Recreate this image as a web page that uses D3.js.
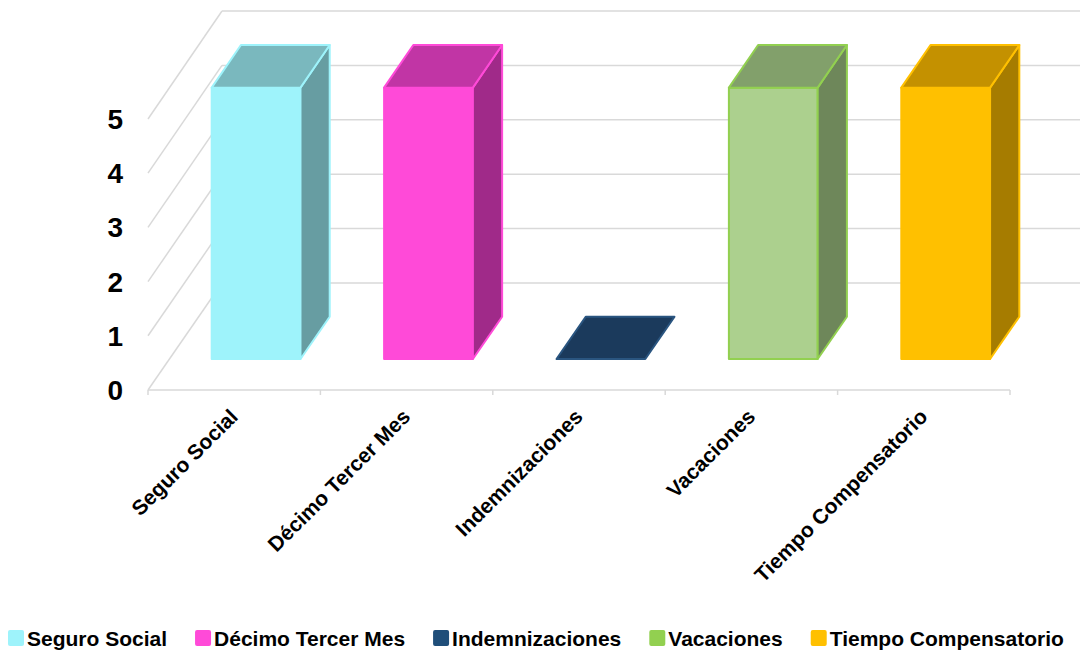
<!DOCTYPE html>
<html>
<head>
<meta charset="utf-8">
<script src="https://cdn.jsdelivr.net/npm/d3@7"></script>
<style>
  body { margin: 0; background: #fff; }
  text { font-family: "Liberation Sans", Arial, sans-serif; font-weight: bold; fill: #000; }
</style>
</head>
<body>
<div id="chart"></div>
<script>
const categories = ["Seguro Social", "Décimo Tercer Mes", "Indemnizaciones", "Vacaciones", "Tiempo Compensatorio"];
const values = [5, 5, 0, 5, 5];
const yTicks = [0, 1, 2, 3, 4, 5];
const frontColors = ["#9ef3fb", "#ff4ad8", "#1b3a5c", "#acd08e", "#ffc000"];
const topColors = ["#7ab8be", "#c135a5", "#1b3a5c", "#82a06b", "#c49100"];
const sideColors = ["#679da2", "#a02a89", "#173350", "#6e875a", "#a67c00"];
const lineColors = ["#9ef3fb", "#ff4ad8", "#2a5580", "#92d050", "#ffc000"];
const legendColors = ["#9ef3fb", "#ff4ad8", "#1f4e79", "#92d050", "#ffc000"];

function chart () {
    const width = 1080;
    const height = 650;
    const depthX = 74;          // horizontal shift from front edge to back wall
    const tFront = 0.29;        // bar front inside the floor depth
    const tBack = 0.685;        // bar back inside the floor depth

    const svg = d3.select("#chart").append("svg")
        .attr("width", width)
        .attr("height", height);

    const xScale = d3.scaleBand().domain(categories).range([148, 1010]);
    const yFront = d3.scaleLinear().domain([0, 5]).range([390, 119]);
    const yBack = d3.scaleLinear().domain([0, 5]).range([283, 11]);

    // point at front x, value v, depth t (0 = front edge, 1 = back wall)
    const proj = (x, v, t) => [x + t * depthX, yFront(v) + t * (yBack(v) - yFront(v))];

    const grid = svg.append("g")
        .attr("stroke", "#d9d9d9")
        .attr("stroke-width", 1.5)
        .attr("fill", "none");

    // left wall diagonals and back wall lines
    yTicks.forEach(v => {
        grid.append("line")
            .attr("x1", 148).attr("y1", yFront(v))
            .attr("x2", 148 + depthX).attr("y2", yBack(v));
        grid.append("line")
            .attr("x1", 148 + depthX).attr("y1", yBack(v))
            .attr("x2", width).attr("y2", yBack(v));
    });

    // floor front edge and ticks
    grid.append("line")
        .attr("x1", 148).attr("y1", yFront(0))
        .attr("x2", 1010).attr("y2", yFront(0));
    const tickXs = categories.map(c => xScale(c)).concat([xScale.range()[1]]);
    tickXs.forEach(x => {
        grid.append("line")
            .attr("x1", x).attr("y1", yFront(0))
            .attr("x2", x).attr("y2", yFront(0) + 5);
    });

    // y labels
    svg.append("g").selectAll("text")
        .data(yTicks)
        .join("text")
            .attr("x", 123)
            .attr("y", d => yFront(d))
            .attr("dy", "0.36em")
            .attr("text-anchor", "end")
            .attr("font-size", 28)
            .text(d => d);

    // bars
    const bw = xScale.bandwidth();
    const bars = svg.append("g");
    categories.forEach((c, i) => {
        const x0 = xScale(c) + bw * 0.245;
        const x1 = xScale(c) + bw * 0.76;
        const v = values[i];
        const fbl = proj(x0, 0, tFront), fbr = proj(x1, 0, tFront);
        const ftl = proj(x0, v, tFront), ftr = proj(x1, v, tFront);
        const btl = proj(x0, v, tBack), btr = proj(x1, v, tBack);
        const bbr = proj(x1, 0, tBack);
        const g = bars.append("g")
            .attr("stroke", lineColors[i])
            .attr("stroke-width", 2)
            .attr("stroke-linejoin", "round");
        if (v > 0) {
            g.append("path")
                .attr("d", d3.line()([fbl, fbr, ftr, ftl]) + "Z")
                .attr("fill", frontColors[i]);
            g.append("path")
                .attr("d", d3.line()([fbr, bbr, btr, ftr]) + "Z")
                .attr("fill", sideColors[i]);
        }
        g.append("path")
            .attr("d", d3.line()([ftl, ftr, btr, btl]) + "Z")
            .attr("fill", topColors[i]);
    });

    // x labels
    svg.append("g").selectAll("text")
        .data(categories)
        .join("text")
            .attr("text-anchor", "end")
            .attr("font-size", 21)
            .attr("transform", d => "translate(" + (xScale(d) + bw / 2 + 5) + "," + 418 + ") rotate(-45)")
            .text(d => d);

    // legend
    const legend = svg.append("g");
    let lx = 8;
    categories.forEach((c, i) => {
        legend.append("rect")
            .attr("x", lx).attr("y", 630)
            .attr("width", 16).attr("height", 16)
            .attr("rx", 2)
            .attr("fill", legendColors[i]);
        const t = legend.append("text")
            .attr("x", lx + 19).attr("y", 646)
            .attr("font-size", 21)
            .text(c);
        lx += 19 + t.node().getComputedTextLength() + 28;
    });
}
chart();
</script>
</body>
</html>
